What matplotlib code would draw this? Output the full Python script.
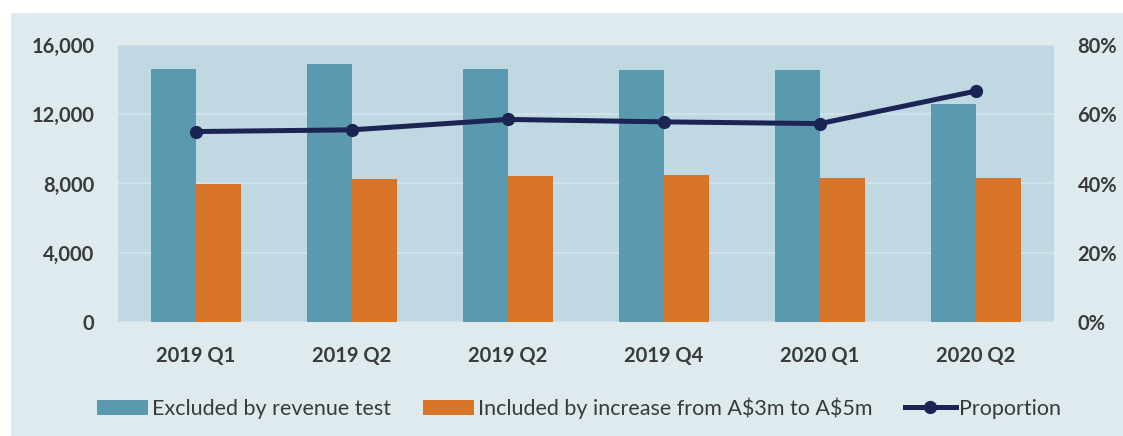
import numpy as np
import matplotlib.pyplot as plt
from matplotlib.patches import Rectangle
from matplotlib.ticker import FuncFormatter

plt.rcParams['font.family'] = ['Lato', 'DejaVu Sans']

quarters = ["2019 Q1", "2019 Q2", "2019 Q2", "2019 Q4", "2020 Q1", "2020 Q2"]
excluded = [14620, 14900, 14620, 14540, 14540, 12600]
included = [7990, 8280, 8450, 8510, 8330, 8330]
proportion = [55.0, 55.5, 58.5, 57.8, 57.3, 66.7]

blue = "#5b9aae"
orange = "#d97528"
navy = "#1b2452"
text_col = "#3a3a3a"

fig = plt.figure(figsize=(11.23, 4.36), dpi=100)
fig.patch.set_facecolor("white")
# outer chart background
fig.patches.append(Rectangle((11 / 1123, 0), 1 - 11 / 1123, 1 - 13 / 436,
                             transform=fig.transFigure, facecolor="#deeaee",
                             edgecolor="none", zorder=-10))

ax = fig.add_axes([118 / 1123, 114 / 436, 936 / 1123, 277 / 436])
ax.set_facecolor("#bfd8e1")
for s in ax.spines.values():
    s.set_visible(False)

x = np.arange(len(quarters))
w = 0.29
b1 = ax.bar(x - w / 2, excluded, w, color=blue, zorder=2)
b2 = ax.bar(x + w / 2, included, w, color=orange, zorder=2)
ax.set_xlim(-0.5, 5.5)
ax.set_ylim(0, 16000)
ax.set_yticks(np.arange(0, 16001, 4000))
ax.yaxis.set_major_formatter(FuncFormatter(lambda v, p: f"{int(v):,}"))
ax.set_xticks(x)
ax.set_xticklabels(quarters)
ax.grid(axis="y", color="#d3e5eb", linewidth=1.2, zorder=1)
ax.set_axisbelow(True)
ax.tick_params(length=0, labelsize=14.5, labelcolor=text_col)
ax.tick_params(axis="y", pad=17)
ax.tick_params(axis="x", pad=17)
for lab in ax.get_xticklabels() + ax.get_yticklabels():
    lab.set_fontweight("bold")

ax2 = ax.twinx()
for s in ax2.spines.values():
    s.set_visible(False)
ln, = ax2.plot(x, proportion, color=navy, linewidth=3.6, marker="o",
               markersize=8.5, zorder=3)
ax2.set_ylim(0, 80)
ax2.set_yticks(np.arange(0, 81, 20))
ax2.yaxis.set_major_formatter(FuncFormatter(lambda v, p: f"{int(v)}%"))
ax2.tick_params(length=0, labelsize=14.5, labelcolor=text_col, pad=17)
for lab in ax2.get_yticklabels():
    lab.set_fontweight("bold")

labels = ["Excluded by revenue test",
          "Included by increase from A\\$3m to A\\$5m",
          "Proportion"]
leg = fig.legend([b1, b2, ln], labels,
                 loc="center", bbox_to_anchor=(0.5156, 0.064), ncol=3,
                 frameon=False, fontsize=15.5, handlelength=2.4,
                 handletextpad=0.15, columnspacing=1.5)
for t in leg.get_texts():
    t.set_color(text_col)

fig.savefig("out.png", dpi=100)
